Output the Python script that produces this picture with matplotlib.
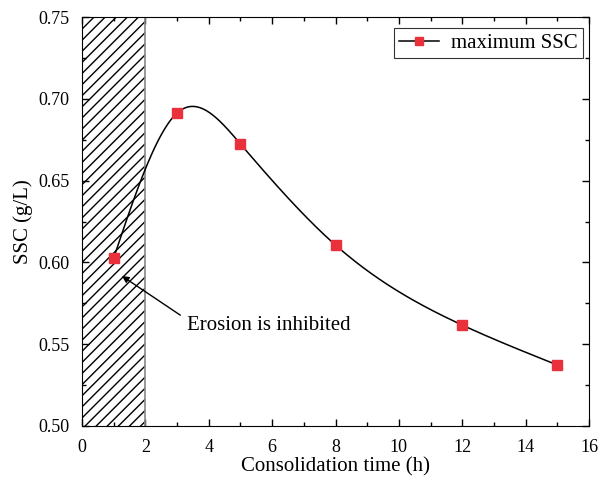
import numpy as np
import matplotlib.pyplot as plt

plt.rcParams['font.family'] = ['Liberation Serif', 'DejaVu Serif']

# data
tiempo = [1, 3, 5, 8, 12, 15]
ssc = [0.6027, 0.6913, 0.6724, 0.6106, 0.5617, 0.5373]


def spline_natural(x, y, xs):
    # natural cubic spline, just for the smooth line through the points
    x = np.asarray(x, float)
    y = np.asarray(y, float)
    n = len(x)
    h = np.diff(x)
    A = np.zeros((n, n))
    b = np.zeros(n)
    A[0, 0] = 1
    A[-1, -1] = 1
    for i in range(1, n - 1):
        A[i, i - 1] = h[i - 1]
        A[i, i] = 2 * (h[i - 1] + h[i])
        A[i, i + 1] = h[i]
        b[i] = 3 * ((y[i + 1] - y[i]) / h[i] - (y[i] - y[i - 1]) / h[i - 1])
    c = np.linalg.solve(A, b)
    out = np.zeros_like(xs)
    for k, xv in enumerate(xs):
        i = min(max(np.searchsorted(x, xv) - 1, 0), n - 2)
        dx = xv - x[i]
        bi = (y[i + 1] - y[i]) / h[i] - h[i] * (2 * c[i] + c[i + 1]) / 3
        di = (c[i + 1] - c[i]) / (3 * h[i])
        out[k] = y[i] + bi * dx + c[i] * dx**2 + di * dx**3
    return out


fig = plt.figure(figsize=(5.98, 4.79), dpi=100)
ax = fig.add_axes([82 / 598, 1 - 426 / 479, (589 - 82) / 598, (426 - 17) / 479])

# zona rayada
ax.axvspan(0, 2, facecolor='white', edgecolor='black', hatch='///', linewidth=0)
ax.axvline(2, color='#888888', lw=1.2)

xs = np.linspace(tiempo[0], tiempo[-1], 400)
ax.plot(xs, spline_natural(tiempo, ssc, xs), color='black', lw=1.1, zorder=3)
ax.plot(tiempo, ssc, ls='none', marker='s', ms=7, color='#e8313a', zorder=4)
# para la leyenda
ax.plot([], [], color='black', lw=1.1, marker='s', ms=6, mfc='#e8313a', mec='#e8313a',
        label='maximum SSC')

ax.annotate('Erosion is inhibited', xy=(1.26, 0.5917), xytext=(3.3, 0.5617),
            fontsize=15, va='center', ha='left',
            arrowprops=dict(arrowstyle='-|>', color='black', lw=1.0,
                            mutation_scale=10, shrinkA=3, shrinkB=0,
                            relpos=(0, 0.8)))

ax.set_xlim(0, 16)
ax.set_ylim(0.50, 0.75)
ax.set_xticks(np.arange(0, 17, 2))
ax.set_xticks(np.arange(1, 16, 2), minor=True)
ax.set_yticks(np.arange(0.50, 0.751, 0.05))
ax.set_yticks(np.arange(0.525, 0.75, 0.05), minor=True)
ax.yaxis.set_major_formatter(plt.FormatStrFormatter('%.2f'))
ax.tick_params(which='both', direction='in', top=True, right=True, labelsize=13)
ax.tick_params(which='major', length=5, width=1, pad=9)
ax.tick_params(which='minor', length=3, width=1)

ax.set_xlabel('Consolidation time (h)', fontsize=15, labelpad=1)
ax.set_ylabel('SSC (g/L)', fontsize=15, labelpad=4)

leg = ax.legend(loc='upper right', bbox_to_anchor=(0.988, 0.973), fontsize=15,
                frameon=True, fancybox=False, edgecolor='black',
                handlelength=1.9, handletextpad=0.6, borderpad=0.25,
                borderaxespad=0)
leg.get_frame().set_linewidth(0.8)

fig.savefig('out.png', dpi=100)
